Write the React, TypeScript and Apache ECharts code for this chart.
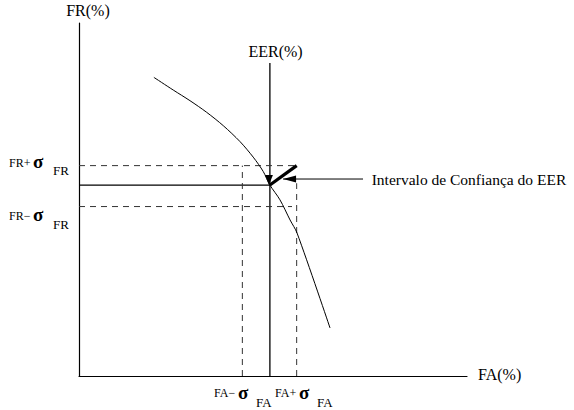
import React, { useEffect, useRef } from "react";
import * as echarts from "echarts";

// Schematic values (FA on x, FR on y, both in %)
const curveFA = [19.3, 24.3, 28.6, 32.9, 37.2, 41.5, 44.9, 47.5, 49.2, 51.8, 54.4, 56.2, 64.7];
const curveFR = [84.6, 81.0, 78.0, 74.7, 70.9, 66.4, 62.0, 57.9, 54.1, 49.9, 44.2, 40.5, 13.6];

const eerFA = 49.2;
const eerFR = 54.1;
const eerLineTop = 88.7;
const faMinus = 42.1;
const faPlus = 56.1;
const frMinus = 48.0;
const frPlus = 59.6;
const frMinusEnd = 54.9;
const faPlusTop = 54.6;
const pointerFA = [73.2, 52.6];
const pointerFR = 55.8;

const axisMax = 100;

const FONT = "'Liberation Serif', 'Times New Roman', Times, 'DejaVu Serif', serif";

const txt = (text: string, x: number, y: number, size: number, align = "left", bold = false) => ({
  type: "text",
  x,
  y,
  silent: true,
  style: {
    text,
    font: `${bold ? "bold " : ""}${size}px ${FONT}`,
    fill: "#000",
    align,
    verticalAlign: "middle",
  },
});

const seg = (data: any[], width: number, dashed: boolean, color = "#000", z = 2) => ({
  type: "line",
  data,
  symbol: "none",
  silent: true,
  z,
  lineStyle: { color, width, type: dashed ? [6, 5] : "solid" },
});

export default function App() {
  const ref = useRef<HTMLDivElement>(null);
  useEffect(() => {
    if (!ref.current) return;
    const chart = echarts.init(ref.current, undefined, { renderer: "svg" });
    const curve = curveFA.map((x, i) => [x, curveFR[i]]);
    chart.setOption({
      animation: false,
      backgroundColor: "#fff",
      textStyle: { fontFamily: FONT },
      grid: { left: 79, top: 23, width: 388, height: 353 },
      xAxis: {
        type: "value",
        min: 0,
        max: axisMax,
        axisLine: { show: true, lineStyle: { color: "#000", width: 1.2 } },
        axisTick: { show: false },
        axisLabel: { show: false },
        splitLine: { show: false },
      },
      yAxis: {
        type: "value",
        min: 0,
        max: axisMax,
        axisLine: { show: true, lineStyle: { color: "#000", width: 1.2 } },
        axisTick: { show: false },
        axisLabel: { show: false },
        splitLine: { show: false },
      },
      series: [
        {
          type: "line",
          data: curve,
          smooth: 0.3,
          symbol: "none",
          silent: true,
          z: 3,
          lineStyle: { color: "#000", width: 1 },
        },
        seg([[eerFA, 0], [eerFA, eerLineTop]], 1.3, false),
        seg([[0, eerFR], [eerFA, eerFR]], 1.2, false),
        seg([[0, frPlus], [faPlus, frPlus]], 1, true, "#333"),
        seg([[0, frMinus], [frMinusEnd, frMinus]], 1, true, "#333"),
        seg([[faMinus, 0], [faMinus, frPlus]], 1, true, "#333"),
        seg([[faPlus, 0], [faPlus, faPlusTop]], 1, true, "#333"),
        {
          ...seg([[eerFA, eerFR], [faPlus, frPlus]], 3.2, false, "#000", 5),
          markPoint: {
            silent: true,
            label: { show: false },
            itemStyle: { color: "#000" },
            data: [
              {
                coord: [eerFA, eerFR],
                symbol: "triangle",
                symbolSize: [8, 10],
                symbolRotate: 180,
                symbolOffset: [-1, -5],
              },
            ],
          },
        },
        {
          type: "line",
          silent: true,
          z: 5,
          symbol: "none",
          showSymbol: true,
          itemStyle: { color: "#000" },
          lineStyle: { color: "#000", width: 1 },
          data: [
            [pointerFA[0], pointerFR],
            {
              value: [pointerFA[1], pointerFR],
              symbol: "triangle",
              symbolSize: [7, 13],
              symbolRotate: 90,
              symbolOffset: [6.5, 0],
            },
          ],
        },
      ],
      graphic: [
        txt("FR(%)", 88, 10, 16, "center"),
        txt("EER(%)", 275.5, 51.5, 16, "center"),
        txt("FA(%)", 478, 374.6, 16),
        txt("Intervalo de Confiança do EER", 371.7, 179.6, 15.5),
        txt("FR+", 9, 162.5, 12),
        txt("σ", 33, 161, 19, "left", true),
        txt("FR", 53, 170, 13),
        txt("FR−", 9, 215.5, 12),
        txt("σ", 33, 214, 19, "left", true),
        txt("FR", 53, 224.5, 13),
        txt("FA−", 214, 393, 12),
        txt("σ", 238, 392, 19, "left", true),
        txt("FA", 256, 402, 13),
        txt("FA+", 275, 393, 12),
        txt("σ", 299, 392, 19, "left", true),
        txt("FA", 317, 402, 13),
      ],
    });
    return () => chart.dispose();
  }, []);
  return (
    <div
      ref={ref}
      style={{ position: "absolute", left: 0, top: 0, width: 574, height: 410, background: "#fff" }}
    />
  );
}
